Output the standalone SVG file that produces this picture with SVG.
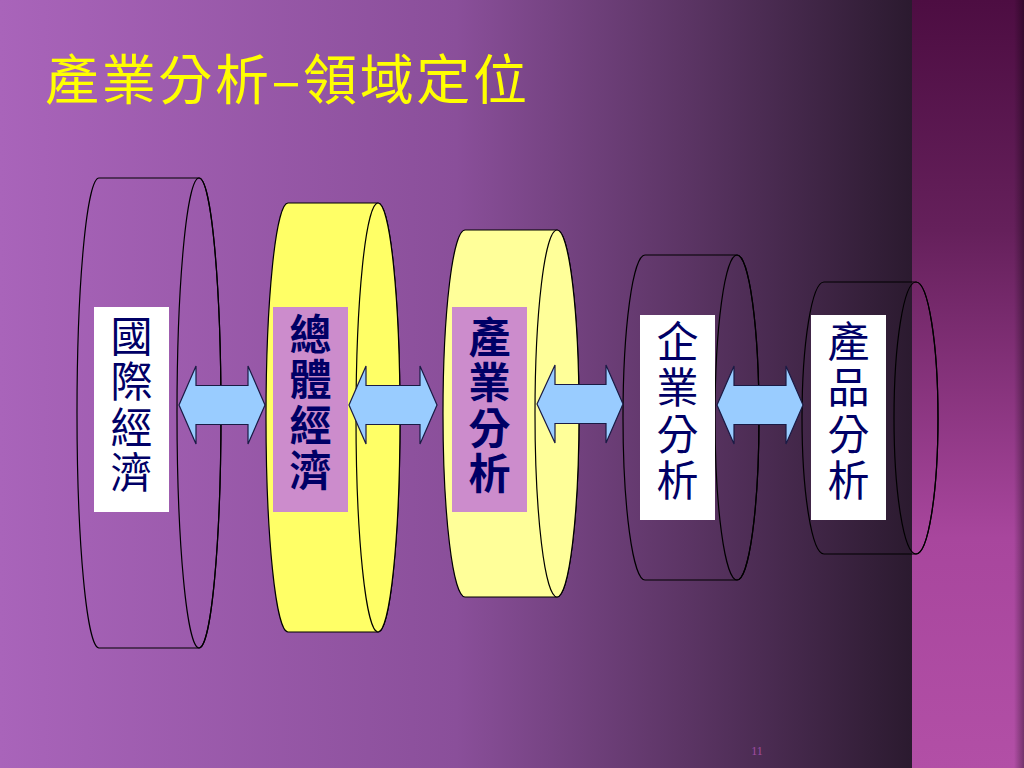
<svg xmlns="http://www.w3.org/2000/svg" width="1024" height="768" viewBox="0 0 1024 768">
<defs>
<linearGradient id="bg" x1="0" y1="0" x2="912" y2="0" gradientUnits="userSpaceOnUse">
<stop offset="0" stop-color="#a964ba"/>
<stop offset="0.5" stop-color="#8a4f9a"/>
<stop offset="0.75" stop-color="#5c3565"/>
<stop offset="1" stop-color="#2b1a2f"/>
</linearGradient>
<linearGradient id="panel" x1="0" y1="0" x2="0" y2="768" gradientUnits="userSpaceOnUse">
<stop offset="0" stop-color="#4d0d42"/>
<stop offset="0.3" stop-color="#65205b"/>
<stop offset="0.7" stop-color="#a8469d"/>
<stop offset="1" stop-color="#b24fa6"/>
</linearGradient>
<linearGradient id="edge" x1="0" y1="0" x2="1" y2="0">
<stop offset="0" stop-color="#000" stop-opacity="0"/>
<stop offset="1" stop-color="#000" stop-opacity="0.35"/>
</linearGradient>
<style>
.cyl{stroke:#000;stroke-width:1.2}
.empty{fill:none}
.y1{fill:#ffff66}
.y2{fill:#ffff99}
.white{fill:#ffffff}
.pink{fill:#cc8ccc}
.lbl{font-family:"Noto Sans CJK TC","Noto Sans CJK SC",sans-serif;font-size:42px;fill:#000066;writing-mode:vertical-rl;text-orientation:upright;letter-spacing:3.5px}
.bold{font-weight:bold}
.arrow{fill:#99ccff;stroke:#1a1a44;stroke-width:1.2;stroke-linejoin:miter}
</style>
</defs>
<rect x="0" y="0" width="912" height="768" fill="url(#bg)"/>
<rect x="912" y="0" width="112" height="768" fill="url(#panel)"/>
<rect x="1014" y="0" width="10" height="768" fill="url(#edge)"/>
<text x="45" y="100" textLength="482" lengthAdjust="spacing" font-family="Noto Sans CJK TC, Noto Sans CJK SC, sans-serif" font-size="54" fill="#ffff00">產業分析–領域定位</text>

<g id="node-intl">
<path class="cyl empty" d="M99,178 L199,178 A22,235 0 0 1 199,648 L99,648 A22,235 0 0 1 99,178 Z"/>
<ellipse class="cyl empty" cx="199" cy="413" rx="22" ry="235"/>
<rect class="white" x="94" y="307" width="75" height="205"/>
<text class="lbl" x="131.5" y="315">國際經濟</text>
</g>

<g id="node-macro">
<path class="cyl y1" d="M288,203 L378,203 A22,214.5 0 0 1 378,632 L288,632 A22,214.5 0 0 1 288,203 Z"/>
<ellipse class="cyl y1" cx="378" cy="417.5" rx="22" ry="214.5"/>
<rect class="pink" x="273" y="307" width="75" height="205"/>
<text class="lbl bold" x="310.5" y="313">總體經濟</text>
</g>

<g id="node-industry">
<path class="cyl y2" d="M465,230 L557,230 A22,183.5 0 0 1 557,597 L465,597 A22,183.5 0 0 1 465,230 Z"/>
<ellipse class="cyl y2" cx="557" cy="413.5" rx="22" ry="183.5"/>
<rect class="pink" x="452" y="307" width="75" height="205"/>
<text class="lbl bold" x="489.5" y="316">產業分析</text>
</g>

<g id="node-firm">
<path class="cyl empty" d="M645,255 L737,255 A22,162.5 0 0 1 737,580 L645,580 A22,162.5 0 0 1 645,255 Z"/>
<ellipse class="cyl empty" cx="737" cy="417.5" rx="22" ry="162.5"/>
<rect class="white" x="640" y="315" width="75" height="205"/>
<text class="lbl" x="677.5" y="320" style="letter-spacing:4.5px">企業分析</text>
</g>

<g id="node-product">
<path class="cyl empty" d="M824,282 L916,282 A22,136 0 0 1 916,554 L824,554 A22,136 0 0 1 824,282 Z"/>
<ellipse class="cyl empty" cx="916" cy="418" rx="22" ry="136"/>
<rect class="white" x="811" y="315" width="75" height="205"/>
<text class="lbl" x="848.5" y="320" style="letter-spacing:4.5px">產品分析</text>
</g>

<g id="connectors">
<path class="arrow" d="M179,405 L196,366 L196,385.5 L248,385.5 L248,366 L265,405 L248,444 L248,424.5 L196,424.5 L196,444 Z"/>
<path class="arrow" d="M349,405 L366,366 L366,385.5 L420,385.5 L420,366 L437,405 L420,444 L420,424.5 L366,424.5 L366,444 Z"/>
<path class="arrow" d="M537,404 L555,365 L555,384.5 L606,384.5 L606,365 L623,404 L606,443 L606,423.5 L555,423.5 L555,443 Z"/>
<path class="arrow" d="M717,405 L734,366 L734,385.5 L786,385.5 L786,366 L803,405 L786,444 L786,424.5 L734,424.5 L734,444 Z"/>
</g>

<text x="757" y="755" font-family="Liberation Serif, serif" font-size="12" fill="#a24ca2" text-anchor="middle">11</text>
</svg>
